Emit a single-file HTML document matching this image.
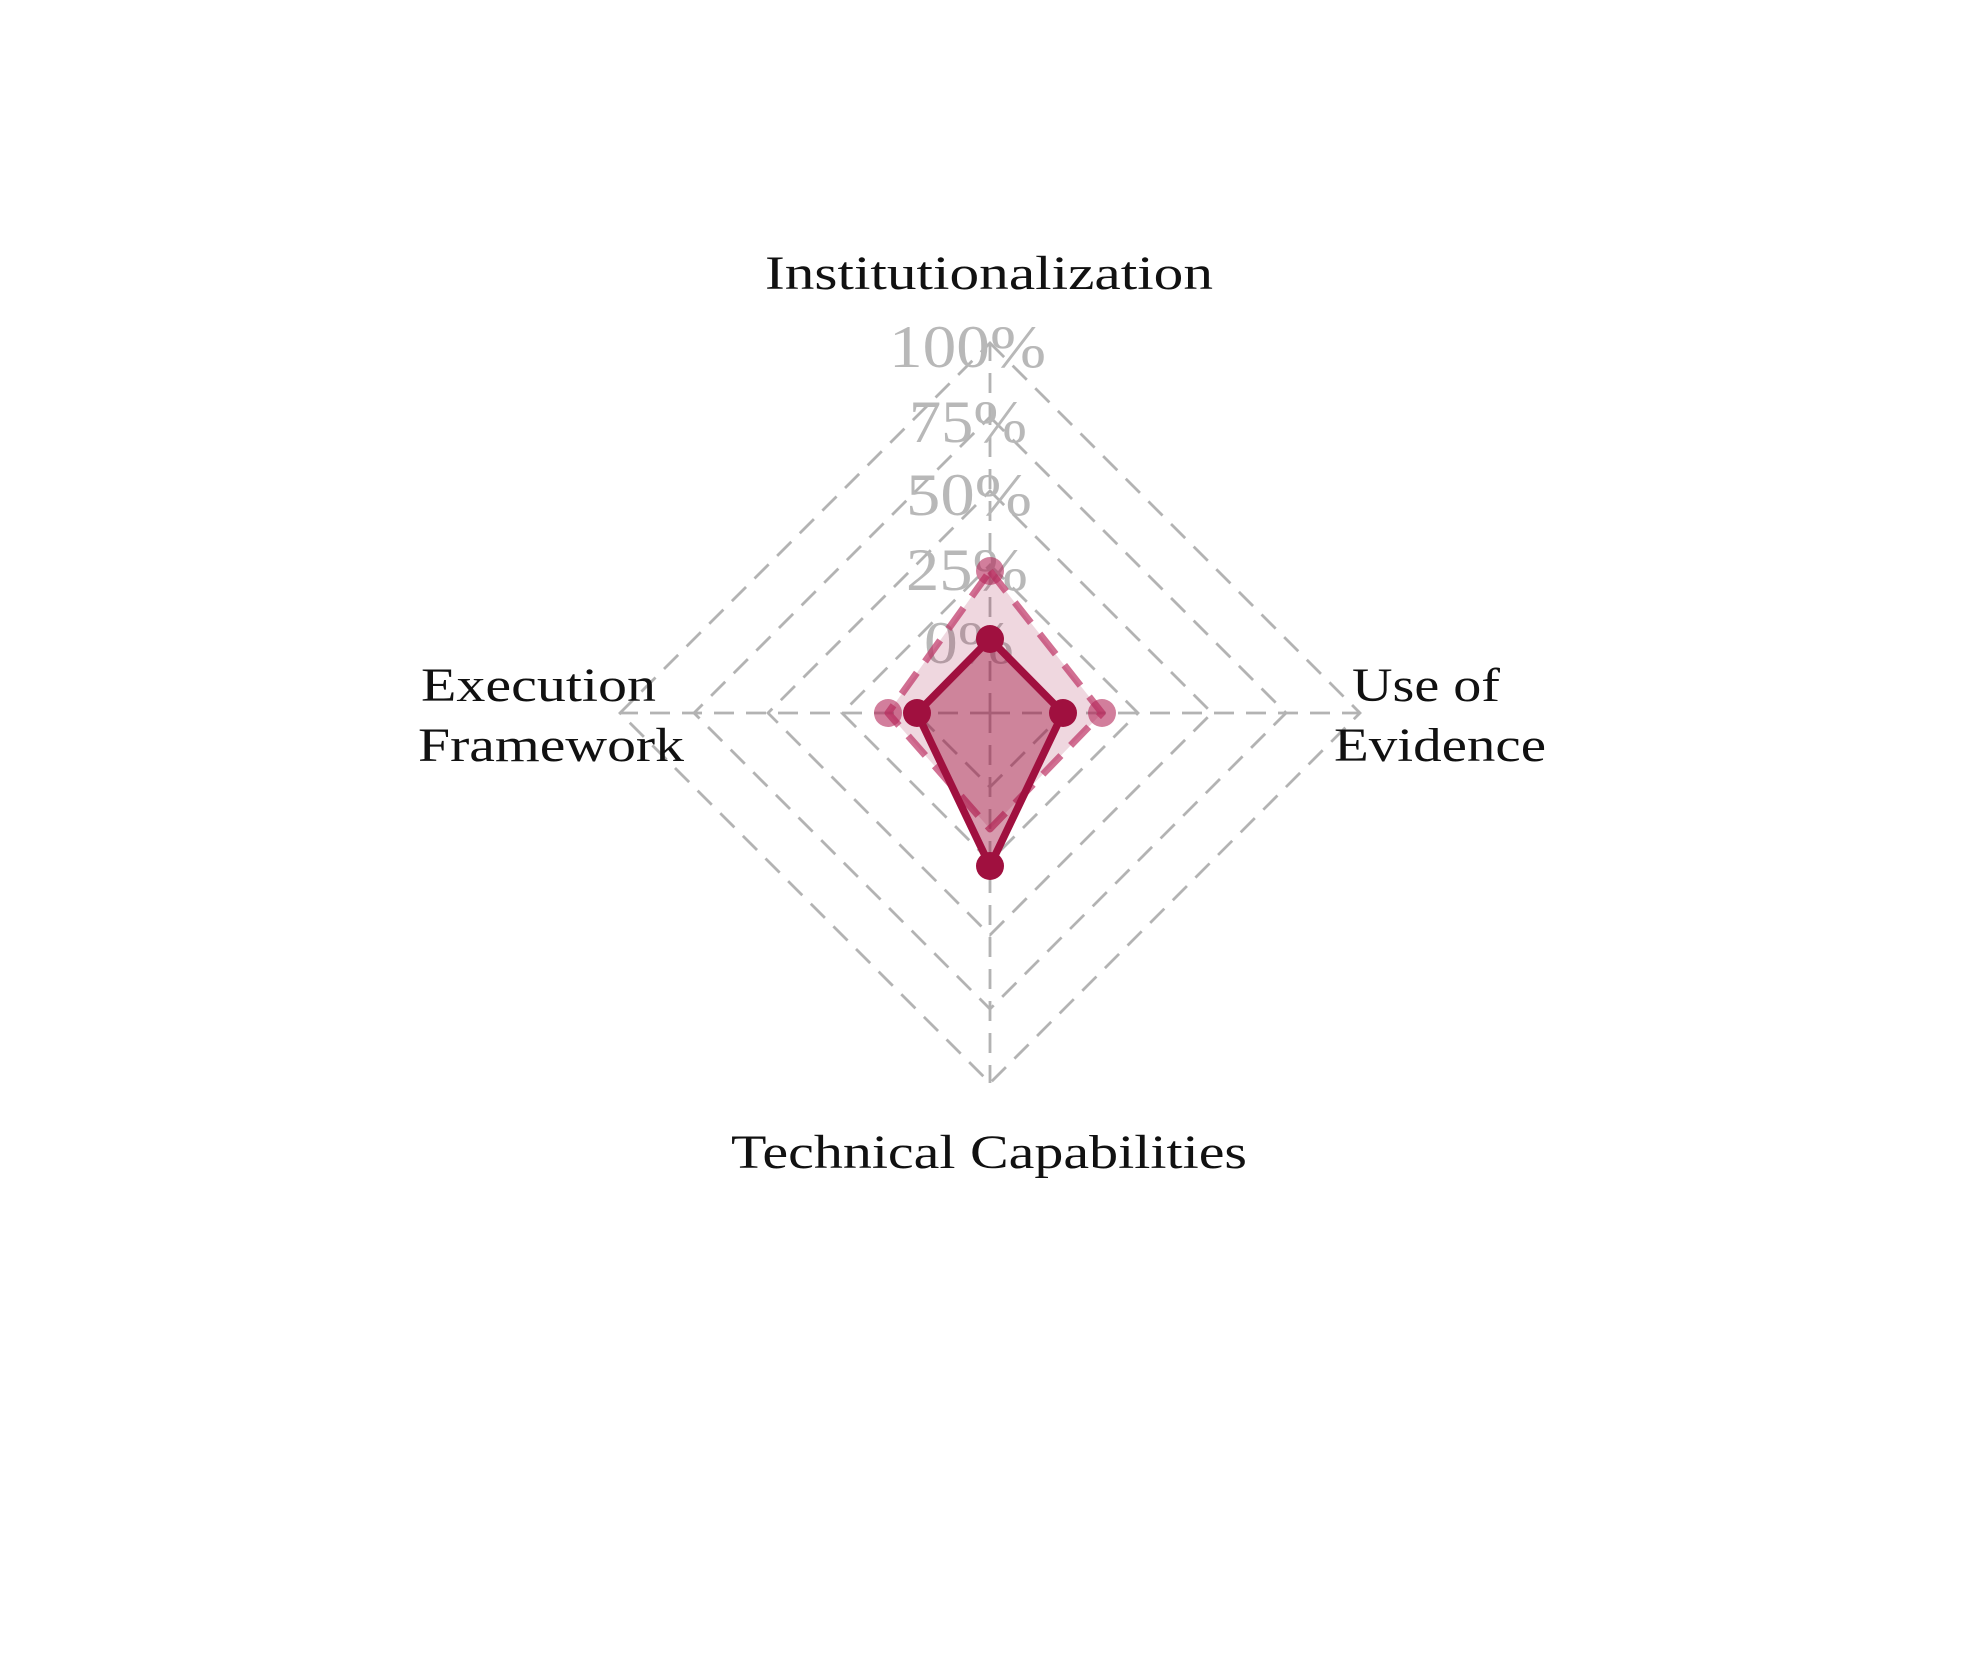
<!DOCTYPE html>
<html><head><meta charset="utf-8"><style>html,body{margin:0;padding:0;background:#fff}svg{display:block}</style></head>
<body>
<svg width="1969" height="1658" viewBox="0 0 1969 1658" xmlns="http://www.w3.org/2000/svg">
<g fill="none" stroke="#b3b3b3" stroke-width="2.8" stroke-dasharray="20,12">
<polygon points="990,639 1064,713 990,787 916,713"/>
<polygon points="990,565 1138,713 990,861 842,713"/>
<polygon points="990,491 1212,713 990,935 768,713"/>
<polygon points="990,417 1286,713 990,1009 694,713"/>
<polygon points="990,343 1360,713 990,1083 620,713"/>
<line x1="990" y1="713" x2="990" y2="343"/>
<line x1="990" y1="713" x2="1360" y2="713"/>
<line x1="990" y1="713" x2="990" y2="1083"/>
<line x1="990" y1="713" x2="620" y2="713"/>
</g>
<g font-family="'Liberation Serif',serif" font-size="60" fill="#b8b8b8">
<text x="889" y="367" textLength="157" lengthAdjust="spacingAndGlyphs">100%</text>
<text x="909" y="442" textLength="118" lengthAdjust="spacingAndGlyphs">75%</text>
<text x="906" y="515" textLength="126" lengthAdjust="spacingAndGlyphs">50%</text>
<text x="906" y="590" textLength="122" lengthAdjust="spacingAndGlyphs">25%</text>
<text x="924" y="663" textLength="90" lengthAdjust="spacingAndGlyphs">0%</text>
</g>
<polygon points="990,571 1102,713 990,829 888,713" fill="rgba(160,16,63,0.17)" stroke="rgba(190,50,100,0.7)" stroke-width="7" stroke-dasharray="26,14" stroke-linejoin="round"/>
<g fill="rgba(180,40,90,0.6)">
<circle cx="990" cy="571" r="14"/><circle cx="1102" cy="713" r="14"/><circle cx="888" cy="713" r="14"/>
</g>
<polygon points="990,639 1063,713 990,866 917,713" fill="rgba(160,16,63,0.42)" stroke="#a0103f" stroke-width="7.5" stroke-linejoin="round"/>
<g fill="#a0103f">
<circle cx="990" cy="639" r="14"/><circle cx="1063" cy="713" r="14"/><circle cx="990" cy="866" r="14"/><circle cx="917" cy="713" r="14"/>
</g>
<g font-family="'Liberation Serif',serif" font-size="48" fill="#111">
<text x="765" y="289" textLength="448" lengthAdjust="spacingAndGlyphs">Institutionalization</text>
<text x="421" y="701" textLength="235" lengthAdjust="spacingAndGlyphs">Execution</text>
<text x="418" y="761" textLength="266" lengthAdjust="spacingAndGlyphs">Framework</text>
<text x="1352" y="701" textLength="148" lengthAdjust="spacingAndGlyphs">Use of</text>
<text x="1334" y="761" textLength="212" lengthAdjust="spacingAndGlyphs">Evidence</text>
<text x="731" y="1168" textLength="516" lengthAdjust="spacingAndGlyphs">Technical Capabilities</text>
</g>
</svg>
</body></html>
